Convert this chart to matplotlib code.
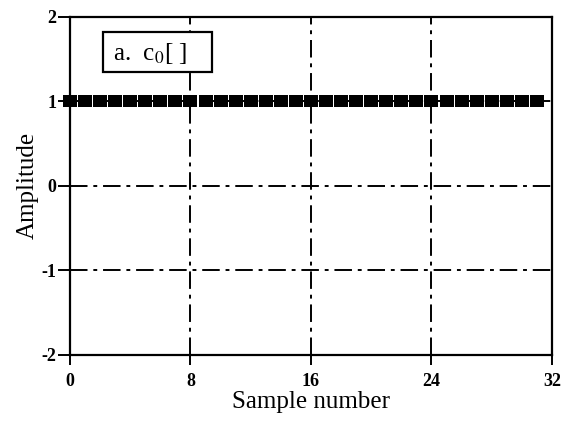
import numpy as np
import matplotlib.pyplot as plt
from matplotlib.patches import Rectangle

# Sample index and the constant basis function c0[n]
samples = np.arange(32)
c0 = [1] * 32

x_ticks = [0, 8, 16, 24, 32]
y_ticks = [-2, -1, 0, 1, 2]

plt.rcParams['font.family'] = ['Liberation Serif', 'DejaVu Serif']
plt.rcParams['mathtext.fontset'] = 'stix'
plt.rcParams['axes.unicode_minus'] = False

fig = plt.figure(figsize=(5.69, 4.22), dpi=100)
ax = fig.add_axes([0.123, 0.159, 0.847, 0.801])

# wide square-ish blocks that nearly touch each other
block = [(-0.55, -0.48), (0.55, -0.48), (0.55, 0.48), (-0.55, 0.48), (-0.55, -0.48)]
ax.plot(samples, c0, linestyle='none', marker=block, markersize=10.3,
        color='black', markeredgewidth=0, zorder=3, clip_on=False)

ax.set_xlim(0, 32)
ax.set_ylim(-2, 2)
ax.set_xticks(x_ticks)
ax.set_yticks(y_ticks)
ax.tick_params(direction='out', width=1.4, labelsize=13)
ax.tick_params(axis='x', length=7, pad=6)
ax.tick_params(axis='y', length=9, pad=1)
for lbl in ax.get_xticklabels() + ax.get_yticklabels():
    lbl.set_fontweight('bold')

# dash-dot grid on the interior ticks only
for xv in x_ticks[1:-1]:
    ax.axvline(xv, color='black', lw=1.4, ls=(0, (9, 3, 2, 3)), zorder=1)
for yv in y_ticks[1:-1]:
    ax.axhline(yv, color='black', lw=1.4, ls=(0, (9, 3, 2, 3)), zorder=1)

for s in ax.spines.values():
    s.set_linewidth(1.6)

ax.set_xlabel('Sample number', fontsize=18, labelpad=1)
ax.set_ylabel('Amplitude', fontsize=18, labelpad=2)

# boxed panel label
ax.add_patch(Rectangle((0.068, 0.837), 0.227, 0.119, transform=ax.transAxes,
                       facecolor='white', edgecolor='black', linewidth=1.6,
                       zorder=4, clip_on=False))
ax.text(0.089, 0.893, r'a.  c$_\mathrm{0}$[ ]', transform=ax.transAxes, fontsize=18,
        va='center', ha='left', zorder=5)

fig.savefig('out.png', dpi=100)
